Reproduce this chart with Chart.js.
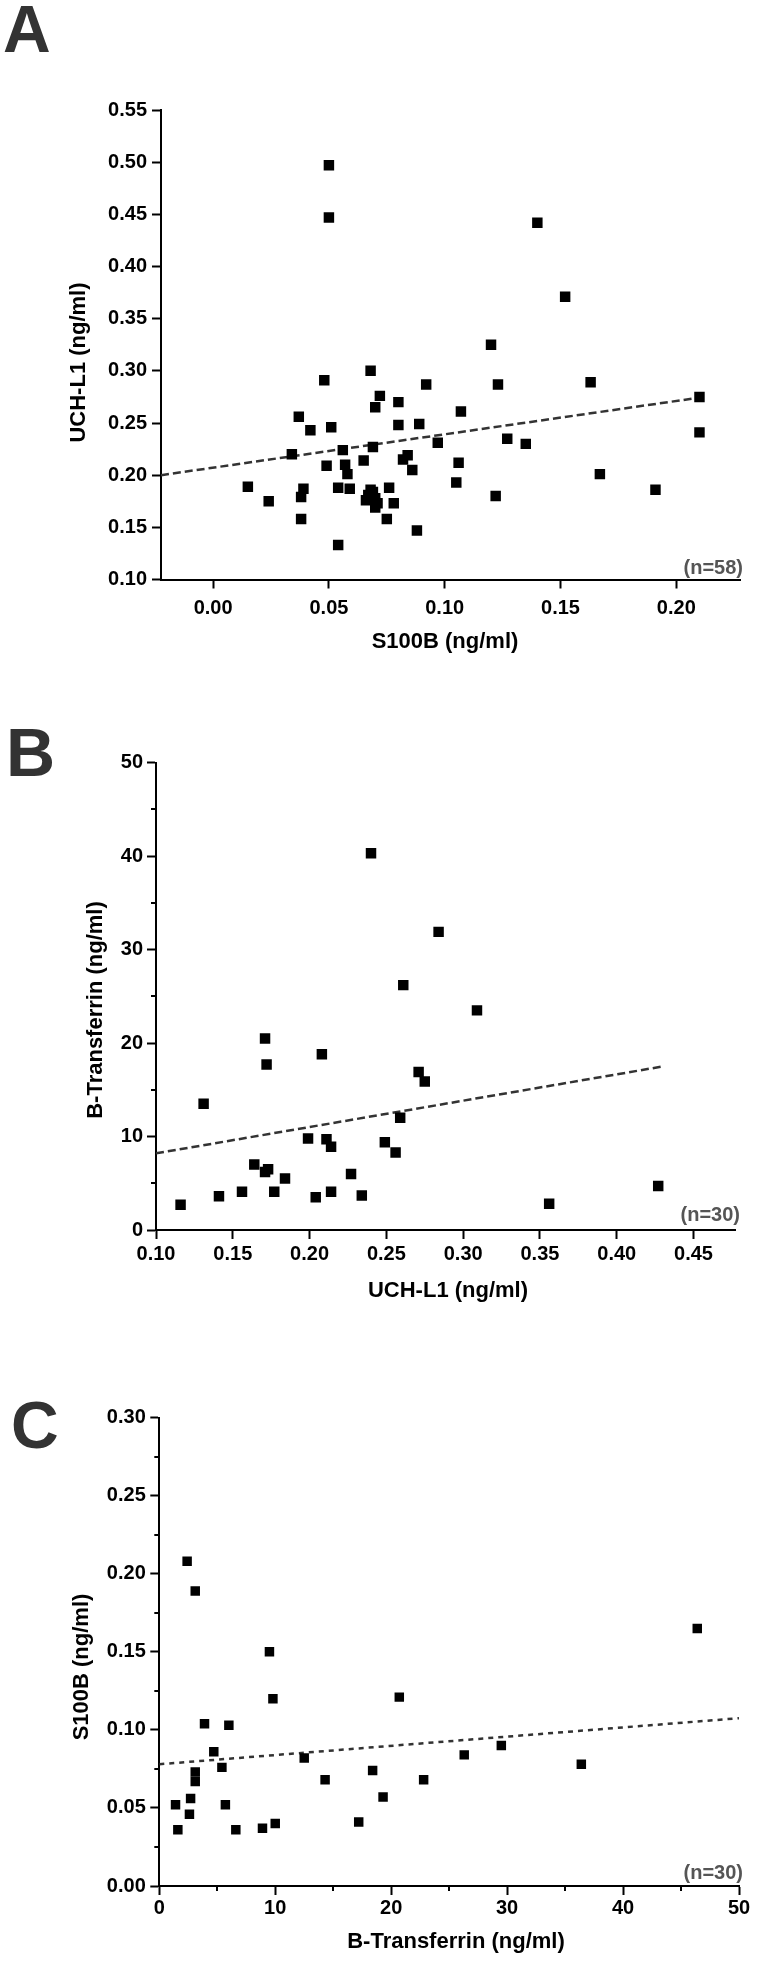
<!DOCTYPE html>
<html><head><meta charset="utf-8">
<script src="https://cdn.jsdelivr.net/npm/chart.js@4.4.0/dist/chart.umd.min.js"></script>
<style>
html,body{margin:0;padding:0;background:#fff;}
body{width:757px;height:1962px;position:relative;overflow:hidden;}
canvas{position:absolute;left:0;}
</style></head><body>
<canvas id="cA" width="757" height="660" style="top:0px"></canvas>
<canvas id="cB" width="757" height="660" style="top:660px"></canvas>
<canvas id="cC" width="757" height="662" style="top:1300px"></canvas>
<script>
// ---------- Panel A: S100B (x) vs UCH-L1 (y), n=58 ----------
const aS100B = [0.050,0.050,0.140,0.152,0.015,0.024,0.034,0.037,0.042,0.048,0.051,0.049,0.039,0.038,0.038,0.054,0.054,0.056,0.057,0.058,0.059,0.065,0.068,0.072,0.070,0.069,0.066,0.068,0.070,0.070,0.069,0.067,0.071,0.076,0.078,0.075,0.080,0.080,0.089,0.092,0.084,0.082,0.086,0.088,0.097,0.107,0.106,0.105,0.120,0.123,0.122,0.127,0.135,0.163,0.167,0.191,0.210,0.210];
const aUCHL1 = [0.497,0.447,0.442,0.371,0.189,0.175,0.220,0.256,0.243,0.291,0.246,0.209,0.187,0.179,0.158,0.133,0.188,0.224,0.210,0.201,0.187,0.214,0.300,0.276,0.265,0.227,0.176,0.186,0.178,0.169,0.184,0.181,0.173,0.188,0.173,0.158,0.270,0.248,0.249,0.287,0.219,0.215,0.205,0.147,0.231,0.261,0.212,0.193,0.325,0.287,0.180,0.235,0.230,0.289,0.201,0.186,0.275,0.241];
const aFitX = [-0.0225, 0.209];
const aFitY = [0.200, 0.274];
const aXTicks = [0.00, 0.05, 0.10, 0.15, 0.20];
const aYTicks = [0.10, 0.15, 0.20, 0.25, 0.30, 0.35, 0.40, 0.45, 0.50, 0.55];

// ---------- Panel B: UCH-L1 (x) vs B-Transferrin (y), n=30 ----------
const bUCHL1 = [0.240,0.284,0.261,0.116,0.131,0.141,0.156,0.164,0.171,0.173,0.171,0.172,0.177,0.184,0.199,0.208,0.204,0.211,0.214,0.214,0.227,0.234,0.309,0.271,0.275,0.259,0.249,0.256,0.356,0.427];
const bBTrf  = [40.3,31.9,26.2,2.7,13.5,3.6,4.1,7.0,6.2,6.5,20.5,17.7,4.1,5.5,9.8,18.8,3.5,9.7,8.9,4.1,6.0,3.7,23.5,16.9,15.9,12.0,9.4,8.3,2.8,4.7];
const bFitX = [0.10, 0.43];
const bFitY = [8.2, 17.5];
const bXTicks = [0.10, 0.15, 0.20, 0.25, 0.30, 0.35, 0.40, 0.45];
const bYTicks = [0, 10, 20, 30, 40, 50];
const bYMinor = [5, 15, 25, 35, 45];

// ---------- Panel C: B-Transferrin (x) vs S100B (y), n=30 ----------
const cBTrf  = [2.4,3.1,46.4,9.5,9.8,3.9,6.0,4.7,5.4,3.1,3.1,2.7,1.4,2.6,1.6,5.7,6.6,8.9,10.0,12.5,14.3,17.2,18.4,19.3,20.7,22.8,26.3,29.5,36.4];
const cS100B = [0.208,0.189,0.165,0.150,0.120,0.104,0.103,0.086,0.076,0.073,0.067,0.056,0.052,0.046,0.036,0.052,0.036,0.037,0.040,0.082,0.068,0.041,0.074,0.057,0.121,0.068,0.084,0.090,0.078];
const cFitX = [0, 50];
const cFitY = [0.078, 0.1075];
const cXTicks = [0, 10, 20, 30, 40, 50];
const cXMinor = [5, 15, 25, 35, 45];
const cYTicks = [0.00, 0.05, 0.10, 0.15, 0.20, 0.25, 0.30];
const cYMinor = [0.025, 0.075, 0.125, 0.175, 0.225, 0.275];

const FONT = "'Liberation Sans', Arial, Helvetica, sans-serif";
Chart.defaults.font.family = FONT;
Chart.defaults.font.size = 20;
Chart.defaults.font.weight = 'bold';
Chart.defaults.color = '#000';

const decor = {
  id: 'decor',
  afterDraw(chart, args, o) {
    const ctx = chart.ctx, ca = chart.chartArea;
    const xs = chart.scales.x, ys = chart.scales.y;
    ctx.save();
    ctx.strokeStyle = '#000'; ctx.lineWidth = 2;
    (o.minorX || []).forEach(v => {
      const px = Math.round(xs.getPixelForValue(v));
      ctx.beginPath(); ctx.moveTo(px, ca.bottom); ctx.lineTo(px, ca.bottom + o.minorLen); ctx.stroke();
    });
    (o.minorY || []).forEach(v => {
      const py = Math.round(ys.getPixelForValue(v));
      ctx.beginPath(); ctx.moveTo(ca.left, py); ctx.lineTo(ca.left - o.minorLen, py); ctx.stroke();
    });
    // axis titles
    ctx.fillStyle = '#000';
    ctx.font = 'bold 22px ' + FONT;
    ctx.textAlign = 'center'; ctx.textBaseline = 'alphabetic';
    ctx.fillText(o.xTitle, o.xTitlePos[0], o.xTitlePos[1]);
    ctx.save();
    ctx.translate(o.yTitlePos[0], o.yTitlePos[1]);
    ctx.rotate(-Math.PI / 2);
    ctx.fillText(o.yTitle, 0, 0);
    ctx.restore();
    // n label
    ctx.fillStyle = '#555';
    ctx.font = 'bold 20px ' + FONT;
    ctx.textAlign = 'right';
    ctx.fillText(o.nLabel, o.nPos[0], o.nPos[1]);
    // panel letter
    ctx.fillStyle = '#333';
    ctx.font = 'bold ' + o.letterSize + 'px ' + FONT;
    ctx.textAlign = 'left';
    ctx.fillText(o.letter, o.letterPos[0], o.letterPos[1]);
    ctx.restore();
  }
};

function axis(min, max, tickVals, fmt, pad, fitFn) {
  return {
    type: 'linear', min: min, max: max,
    afterBuildTicks: s => { s.ticks = tickVals.map(v => ({ value: v })); },
    afterFit: fitFn,
    ticks: { callback: v => fmt(v), padding: pad, autoSkip: false, maxRotation: 0, color: '#000',
             font: { size: 20, weight: 'bold', family: FONT } },
    grid: { drawOnChartArea: false, drawTicks: true, tickLength: 9, tickWidth: 2, tickColor: '#000' },
    border: { display: true, color: '#000', width: 2 }
  };
}

function makeChart(id, g, d, deco) {
  return new Chart(document.getElementById(id), {
    type: 'scatter',
    data: { datasets: [
      { data: d.x.map((v, i) => ({ x: v, y: d.y[i] })), pointStyle: 'rect', pointRadius: g.r, pointHoverRadius: g.r,
        backgroundColor: '#000', borderWidth: 0 },
      { data: d.fitX.map((v, i) => ({ x: v, y: d.fitY[i] })), showLine: true, borderColor: '#333', borderWidth: 2.5,
        borderDash: g.dash, pointRadius: 0, pointHoverRadius: 0, fill: false }
    ]},
    options: {
      responsive: false, animation: false, devicePixelRatio: 1, events: [],
      layout: { padding: { left: 0, top: g.top, right: 757 - g.right, bottom: g.h - g.bottom - 70 } },
      plugins: { legend: { display: false }, tooltip: { enabled: false }, decor: deco },
      scales: {
        x: axis(g.xmin, g.xmax, d.xTicks, d.xFmt, g.xPad, s => { s.height = 70; }),
        y: axis(g.ymin, g.ymax, d.yTicks, d.yFmt, g.yPad, s => { s.width = g.left; })
      }
    },
    plugins: [decor]
  });
}

const f2 = v => v.toFixed(2), f0 = v => v.toFixed(0);

makeChart('cA',
  { h: 660, left: 161, right: 740, top: 110, bottom: 579.5, xmin: -0.0225, xmax: 0.2275, ymin: 0.10, ymax: 0.55,
    xPad: 8, yPad: 5, r: 7.4, dash: [8, 4] },
  { x: aS100B, y: aUCHL1, fitX: aFitX, fitY: aFitY, xTicks: aXTicks, yTicks: aYTicks, xFmt: f2, yFmt: f2 },
  { xTitle: 'S100B (ng/ml)', xTitlePos: [445, 648], yTitle: 'UCH-L1 (ng/ml)', yTitlePos: [85, 362.5],
    nLabel: '(n=58)', nPos: [743, 574], letter: 'A', letterSize: 66, letterPos: [3, 52], minorLen: 5 });

makeChart('cB',
  { h: 660, left: 156, right: 735, top: 102.7, bottom: 570, xmin: 0.10, xmax: 0.477, ymin: 0, ymax: 50,
    xPad: 3, yPad: 4, r: 7.4, dash: [8, 4] },
  { x: bUCHL1, y: bBTrf, fitX: bFitX, fitY: bFitY, xTicks: bXTicks, yTicks: bYTicks, xFmt: f2, yFmt: f0 },
  { xTitle: 'UCH-L1 (ng/ml)', xTitlePos: [448, 637], yTitle: 'B-Transferrin (ng/ml)', yTitlePos: [101.5, 350],
    nLabel: '(n=30)', nPos: [740, 561], letter: 'B', letterSize: 68, letterPos: [6, 116], minorY: bYMinor, minorLen: 5 });

makeChart('cC',
  { h: 662, left: 159.3, right: 739, top: 117.7, bottom: 586, xmin: 0, xmax: 50, ymin: 0, ymax: 0.30,
    xPad: 1, yPad: 4.5, r: 6.7, dash: [5, 5] },
  { x: cBTrf, y: cS100B, fitX: cFitX, fitY: cFitY, xTicks: cXTicks, yTicks: cYTicks, xFmt: f0, yFmt: f2 },
  { xTitle: 'B-Transferrin (ng/ml)', xTitlePos: [456, 648.3], yTitle: 'S100B (ng/ml)', yTitlePos: [88, 367],
    nLabel: '(n=30)', nPos: [743, 579], letter: 'C', letterSize: 66, letterPos: [11, 148], minorX: cXMinor, minorY: cYMinor, minorLen: 5 });
</script>
</body></html>
